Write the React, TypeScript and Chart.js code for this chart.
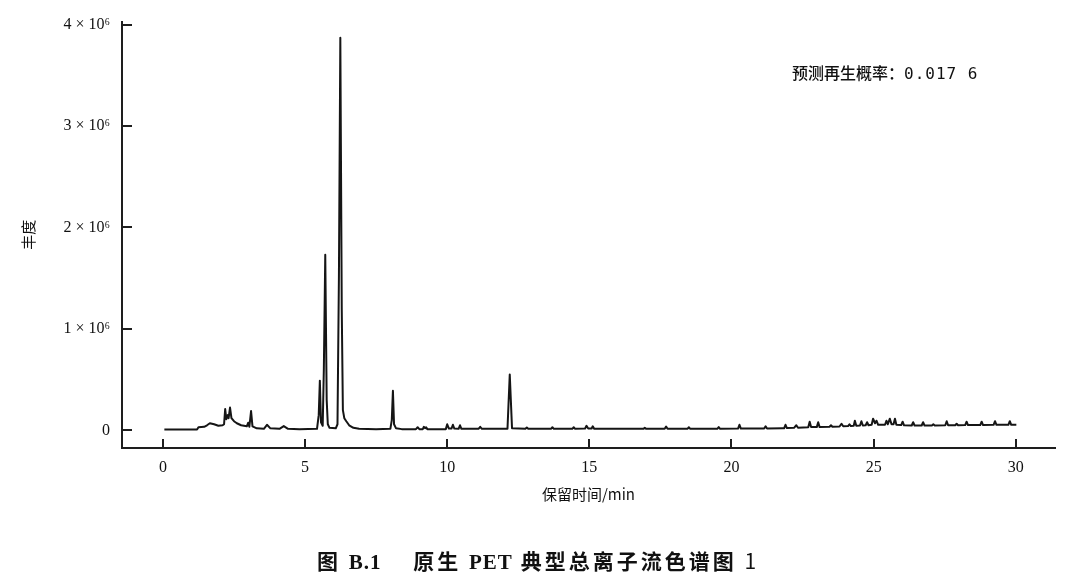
import React, { useEffect, useRef } from "react";
import { Chart, registerables } from "chart.js";

Chart.register(...registerables);

// Retention time (min)
const retentionTime: number[] = [
  0.05, 1.2, 1.25, 1.45, 1.55, 1.65, 1.8, 1.95, 2.1, 2.15, 2.19, 2.23, 2.28, 2.31, 2.36, 2.41, 2.5, 2.6, 2.75, 2.95,
  3.0, 3.04, 3.1, 3.15, 3.3, 3.55, 3.66, 3.78, 4.1, 4.25, 4.4, 4.8, 5.42, 5.48, 5.52, 5.56, 5.62, 5.66, 5.71, 5.76,
  5.8, 5.86, 6.08, 6.14, 6.19, 6.24, 6.29, 6.33, 6.38, 6.45, 6.55, 6.7, 6.9, 7.5, 8.0, 8.05, 8.09, 8.13, 8.2, 8.4,
  8.9, 8.96, 9.02, 9.14, 9.18, 9.22, 9.26, 9.3, 9.95, 10.0, 10.06, 10.15, 10.2, 10.25, 10.4, 10.45, 10.5, 11.1, 11.16, 11.22,
  12.12, 12.2, 12.28, 12.75, 12.8, 12.85, 13.65, 13.7, 13.75, 14.4, 14.45, 14.5, 14.85, 14.9, 14.96, 15.08, 15.12, 15.17, 16.9, 16.95,
  17.0, 17.65, 17.7, 17.75, 18.45, 18.5, 18.55, 19.5, 19.55, 19.6, 20.23, 20.28, 20.33, 21.15, 21.2, 21.25, 21.8, 21.85, 21.9, 21.95,
  22.2, 22.28, 22.34, 22.7, 22.75, 22.8, 23.0, 23.05, 23.1, 23.45, 23.5, 23.55, 23.8, 23.87, 23.93, 24.1, 24.15, 24.2, 24.3, 24.34,
  24.39, 24.52, 24.57, 24.62, 24.72, 24.77, 24.82, 24.93, 24.98, 25.05, 25.1, 25.16, 25.4, 25.45, 25.5, 25.57, 25.63, 25.7, 25.75, 25.8,
  25.97, 26.02, 26.07, 26.34, 26.39, 26.44, 26.69, 26.74, 26.79, 27.05, 27.1, 27.15, 27.52, 27.57, 27.62, 27.87, 27.92, 27.97, 28.22, 28.27,
  28.32, 28.75, 28.8, 28.85, 29.22, 29.27, 29.32, 29.74, 29.79, 29.84, 30.02,
];

// Abundance (counts)
const abundance: number[] = [
  8000, 8000, 30000, 35000, 50000, 70000, 60000, 45000, 50000, 60000, 210000, 110000, 150000, 120000, 225000, 120000, 90000, 70000, 50000, 40000,
  75000, 35000, 190000, 40000, 20000, 15000, 55000, 20000, 15000, 42000, 15000, 12000, 15000, 150000, 490000, 80000, 45000, 600000, 1730000, 300000,
  60000, 25000, 20000, 60000, 1500000, 3870000, 1200000, 200000, 120000, 90000, 50000, 25000, 15000, 12000, 15000, 100000, 390000, 60000, 20000, 12000,
  12000, 30000, 12000, 12000, 35000, 22000, 30000, 12000, 12000, 60000, 18000, 18000, 55000, 18000, 15000, 50000, 15000, 15000, 35000, 15000,
  15000, 550000, 20000, 15000, 28000, 15000, 15000, 30000, 15000, 15000, 30000, 15000, 18000, 45000, 18000, 18000, 40000, 15000, 15000, 25000,
  15000, 15000, 38000, 15000, 15000, 30000, 15000, 15000, 32000, 15000, 18000, 55000, 18000, 18000, 40000, 18000, 20000, 20000, 55000, 22000,
  25000, 50000, 25000, 30000, 85000, 32000, 32000, 80000, 32000, 35000, 50000, 35000, 38000, 65000, 40000, 42000, 60000, 42000, 45000, 95000,
  45000, 48000, 90000, 48000, 50000, 80000, 50000, 55000, 115000, 70000, 95000, 55000, 55000, 95000, 60000, 115000, 60000, 60000, 115000, 55000,
  52000, 85000, 50000, 48000, 80000, 48000, 48000, 80000, 48000, 48000, 60000, 48000, 50000, 90000, 50000, 50000, 65000, 50000, 52000, 85000,
  52000, 52000, 85000, 52000, 55000, 90000, 55000, 55000, 90000, 55000, 55000,
];

const xTickValues: number[] = [0, 5, 10, 15, 20, 25, 30];
const xTickLabels: string[] = ["0", "5", "10", "15", "20", "25", "30"];
const yTickValues: number[] = [0, 1000000, 2000000, 3000000, 4000000];
const yTickLabels: string[] = ["0", "1 × 10⁶", "2 × 10⁶", "3 × 10⁶", "4 × 10⁶"];
const xRange: number[] = [-1.44, 31.38];
const yRange: number[] = [-174000, 4029000];

const xTitle = "保留时间/min";
const yTitle = "丰度";
const noteLabel = "预测再生概率：";
const noteValue = "0.017 6";

const AXIS_COLOR = "#1e1e1e";

const inwardTicks = {
  id: "inwardTicks",
  afterDraw(chart: any) {
    const { ctx, chartArea, scales } = chart;
    ctx.save();
    ctx.strokeStyle = AXIS_COLOR;
    ctx.lineWidth = 2;
    ctx.beginPath();
    for (const v of yTickValues) {
      const y = Math.round(scales.y.getPixelForValue(v));
      ctx.moveTo(chartArea.left, y);
      ctx.lineTo(chartArea.left + 10, y);
    }
    for (const v of xTickValues) {
      const x = Math.round(scales.x.getPixelForValue(v));
      ctx.moveTo(x, chartArea.bottom);
      ctx.lineTo(x, chartArea.bottom - 9);
    }
    ctx.stroke();
    ctx.restore();
  },
};

export default function App() {
  const canvasRef = useRef<HTMLCanvasElement | null>(null);

  useEffect(() => {
    document.body.style.margin = "0";
    const canvas = canvasRef.current;
    if (!canvas) return;
    const chart = new Chart(canvas, {
      type: "line",
      data: {
        datasets: [
          {
            data: retentionTime.map((t, i) => ({ x: t, y: abundance[i] })),
            borderColor: "#151515",
            borderWidth: 2,
            borderJoinStyle: "round",
            pointRadius: 0,
            tension: 0,
            fill: false,
          },
        ],
      },
      options: {
        responsive: false,
        animation: false,
        layout: { padding: { top: 13, right: 25, left: 0, bottom: 0 } },
        plugins: {
          legend: { display: false },
          tooltip: { enabled: false },
        },
        scales: {
          x: {
            type: "linear",
            min: xRange[0],
            max: xRange[1],
            afterBuildTicks: (s: any) => {
              s.ticks = xTickValues.map((v) => ({ value: v }));
            },
            afterFit: (s: any) => {
              s.height = 140;
            },
            grid: { display: false, drawTicks: false },
            border: { display: true, color: AXIS_COLOR, width: 2 },
            ticks: {
              padding: 10,
              autoSkip: false,
              maxRotation: 0,
              color: "#111",
              font: { family: "'Liberation Serif', serif", size: 16 },
              callback: (v: any) => {
                const i = xTickValues.indexOf(Number(v));
                return i >= 0 ? xTickLabels[i] : "";
              },
            },
            title: {
              display: true,
              text: xTitle,
              color: "#111",
              font: { family: "'Noto Sans CJK SC', sans-serif", size: 15 },
              padding: { top: 0, bottom: 85 },
            },
          },
          y: {
            type: "linear",
            min: yRange[0],
            max: yRange[1],
            afterBuildTicks: (s: any) => {
              s.ticks = yTickValues.map((v) => ({ value: v }));
            },
            afterFit: (s: any) => {
              s.width = 122;
            },
            grid: { display: false, drawTicks: false },
            border: { display: true, color: AXIS_COLOR, width: 2 },
            ticks: {
              padding: 12,
              autoSkip: false,
              color: "#111",
              font: { family: "'Liberation Serif', serif", size: 16 },
              callback: (v: any) => {
                const i = yTickValues.indexOf(Number(v));
                return i >= 0 ? yTickLabels[i] : "";
              },
            },
            title: {
              display: true,
              text: yTitle,
              color: "#111",
              font: { family: "'Noto Sans CJK SC', sans-serif", size: 15 },
              padding: { top: 19, bottom: 0 },
            },
          },
        },
      },
      plugins: [inwardTicks],
    });
    return () => chart.destroy();
  }, []);

  const cjk = "'Noto Sans CJK SC', sans-serif";
  const serif = "'Liberation Serif', serif";

  return (
    <div style={{ position: "relative", width: 1080, height: 588, background: "#fff", overflow: "hidden" }}>
      <canvas ref={canvasRef} width={1080} height={588} style={{ display: "block" }} />
      <div
        style={{
          position: "absolute",
          left: 792,
          top: 61,
          fontFamily: cjk,
          fontSize: 16,
          fontWeight: 500,
          lineHeight: "22px",
          color: "#111",
          whiteSpace: "nowrap",
        }}
      >
        <span>{noteLabel}</span>
        <span
          style={{
            fontFamily: "'DejaVu Sans Mono', monospace",
            fontSize: 16,
            fontWeight: 400,
            letterSpacing: "1px",
          }}
        >
          {noteValue}
        </span>
      </div>
      <div
        style={{
          position: "absolute",
          left: 0,
          width: 1076,
          top: 545,
          textAlign: "center",
          fontFamily: cjk,
          fontSize: 21,
          fontWeight: 700,
          lineHeight: "30px",
          letterSpacing: "3px",
          color: "#111",
          whiteSpace: "nowrap",
        }}
      >
        <span>图 </span>
        <span style={{ fontFamily: serif, letterSpacing: "1px" }}>B.1</span>
        <span>{"\u3000\u00a0原生 "}</span>
        <span style={{ fontFamily: serif, letterSpacing: "1px" }}>PET</span>
        <span>{" 典型总离子流色谱图 "}</span>
        <span style={{ fontWeight: 400 }}>1</span>
      </div>
    </div>
  );
}
